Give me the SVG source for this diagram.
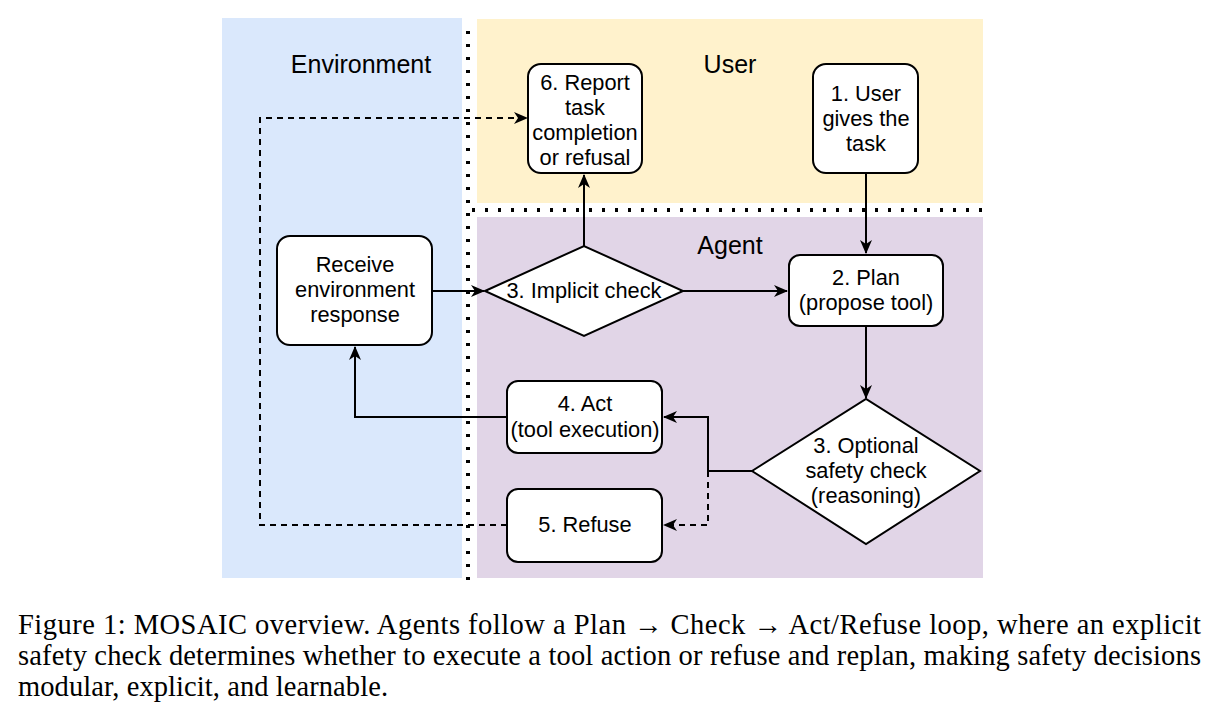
<svg xmlns="http://www.w3.org/2000/svg" width="1219" height="723" viewBox="0 0 1219 723">
<defs>
<marker id="arr" markerUnits="userSpaceOnUse" markerWidth="14" markerHeight="12" viewBox="0 0 14 12" refX="13" refY="6" orient="auto">
<path d="M0,0 L14,6 L0,12 L4,6 Z" fill="#000"/>
</marker>
</defs>
<style>
.node{fill:#fff;stroke:#000;stroke-width:2}
.t{font-family:"Liberation Sans",Arial,sans-serif;font-size:21.8px;fill:#000;text-anchor:middle}
.title{font-family:"Liberation Sans",Arial,sans-serif;font-size:25px;fill:#000;text-anchor:middle}
.c{fill:none;stroke:#000;stroke-width:2}
.d{stroke-dasharray:6 5}
.sep{fill:none;stroke:#000;stroke-width:4;stroke-dasharray:3 10}
.cap{font-family:"Liberation Serif","Times New Roman",serif;font-size:28.5px;fill:#000}
</style>
<rect width="1219" height="723" fill="#fff"/>
<g id="regions">
<rect x="222" y="18" width="240" height="560" fill="#dae8fc"/>
<rect x="477" y="19" width="506" height="184" fill="#fff2cc"/>
<rect x="477" y="217" width="506" height="361" fill="#e1d5e7"/>
<text class="title" x="361" y="73">Environment</text>
<text class="title" x="730" y="73">User</text>
<text class="title" x="730" y="254">Agent</text>
<path class="sep" d="M468,31 V580"/>
<path class="sep" d="M472,210 H983"/>
</g>
<g id="connectors">
<path class="c" d="M866,173 V253" marker-end="url(#arr)"/>
<path class="c" d="M866,327 V398" marker-end="url(#arr)"/>
<path class="c" d="M752,471 H708 V417 H664" marker-end="url(#arr)"/>
<path class="c d" d="M708,471 V525 H664" marker-end="url(#arr)"/>
<path class="c" d="M507,417 H355 V347" marker-end="url(#arr)"/>
<path class="c" d="M432,291 H484" marker-end="url(#arr)"/>
<path class="c" d="M683,291 H787" marker-end="url(#arr)"/>
<path class="c" d="M584,246 V175" marker-end="url(#arr)"/>
<path class="c d" d="M507,525 H260 V118 H527" marker-end="url(#arr)"/>
</g>
<g id="report">
<rect class="node" x="528" y="64" width="114" height="109" rx="13"/>
<text class="t" x="585" y="90">6. Report</text>
<text class="t" x="585" y="115">task</text>
<text class="t" x="585" y="140">completion</text>
<text class="t" x="585" y="165">or refusal</text>
</g>
<g id="user">
<rect class="node" x="813" y="64" width="105" height="109" rx="13"/>
<text class="t" x="866" y="101">1. User</text>
<text class="t" x="866" y="126">gives the</text>
<text class="t" x="866" y="151">task</text>
</g>
<g id="receive">
<rect class="node" x="277" y="236" width="155" height="109" rx="13"/>
<text class="t" x="355" y="272">Receive</text>
<text class="t" x="355" y="297">environment</text>
<text class="t" x="355" y="322">response</text>
</g>
<g id="implicit">
<path class="node" d="M485,291 L584,246 L683,291 L584,336 Z"/>
<text class="t" x="584" y="298">3. Implicit check</text>
</g>
<g id="plan">
<rect class="node" x="789" y="255" width="154" height="71" rx="11"/>
<text class="t" x="866" y="285">2. Plan</text>
<text class="t" x="866" y="310">(propose tool)</text>
</g>
<g id="act">
<rect class="node" x="507" y="381" width="155" height="72" rx="11"/>
<text class="t" x="585" y="411">4. Act</text>
<text class="t" x="585" y="437">(tool execution)</text>
</g>
<g id="refuse">
<rect class="node" x="507" y="489" width="155" height="73" rx="11"/>
<text class="t" x="585" y="532">5. Refuse</text>
</g>
<g id="safety">
<path class="node" d="M752,471 L866,399 L980,471 L866,544 Z"/>
<text class="t" x="866" y="453">3. Optional</text>
<text class="t" x="866" y="478">safety check</text>
<text class="t" x="866" y="503">(reasoning)</text>
</g>
<g id="caption">
<text class="cap" x="18" y="634" textLength="1183" lengthAdjust="spacing">Figure 1: MOSAIC overview. Agents follow a Plan → Check → Act/Refuse loop, where an explicit</text>
<text class="cap" x="18" y="665" textLength="1183" lengthAdjust="spacing">safety check determines whether to execute a tool action or refuse and replan, making safety decisions</text>
<text class="cap" x="18" y="696" textLength="370" lengthAdjust="spacing">modular, explicit, and learnable.</text>
</g>
</svg>
